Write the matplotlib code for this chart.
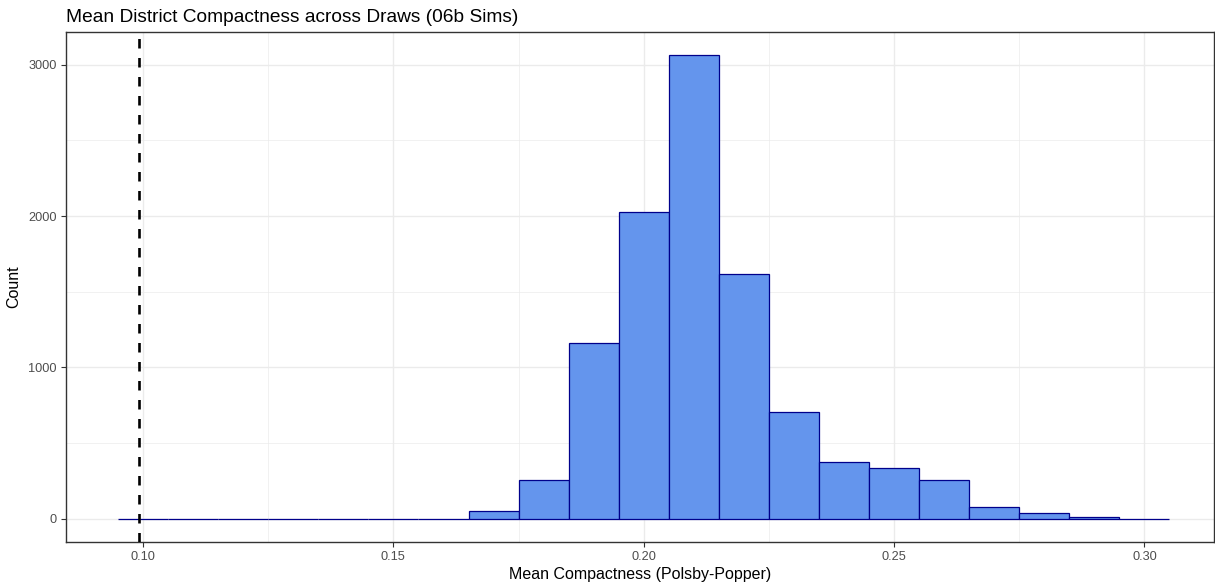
import matplotlib
matplotlib.use("Agg")
import matplotlib.pyplot as plt
from matplotlib.ticker import MultipleLocator

# histogram bins (width 0.01)
bin_centers = [0.10, 0.11, 0.12, 0.13, 0.14, 0.15, 0.16, 0.17, 0.18, 0.19, 0.20,
               0.21, 0.22, 0.23, 0.24, 0.25, 0.26, 0.27, 0.28, 0.29, 0.30]
counts = [0, 0, 0, 0, 0, 0, 0, 48, 255, 1162, 2024,
          3066, 1618, 703, 376, 332, 258, 78, 35, 7, 0]
bin_width = 0.01
ref_line = 0.0992

x_ticks = [0.10, 0.15, 0.20, 0.25, 0.30]
x_tick_labels = ["0.10", "0.15", "0.20", "0.25", "0.30"]
y_ticks = [0, 1000, 2000, 3000]

plt.rcParams["font.family"] = ["Liberation Sans", "DejaVu Sans"]

W, H = 1215, 586
fig = plt.figure(figsize=(W / 100, H / 100), dpi=100)
# panel spans px 66..1214 horizontally, 31.7..541.7 vertically
ax = fig.add_axes([66 / W, 1 - 541.7 / H, 1148 / W, 510 / H])

ax.bar(bin_centers, counts, width=bin_width, color="#6495ED",
       edgecolor="#00008B", linewidth=0.9, zorder=3)
ax.axvline(ref_line, color="black", linestyle=(0, (3.6, 3.6)), linewidth=1.9, zorder=4)

# right side of the panel is clipped by the image edge in the original
ax.set_xlim(0.0846, 0.3139)
top = max(counts)
ax.set_ylim(-0.05 * top, 1.05 * top)

ax.set_xticks(x_ticks)
ax.set_xticklabels(x_tick_labels)
ax.set_yticks(y_ticks)
ax.xaxis.set_minor_locator(MultipleLocator(0.025))
ax.yaxis.set_minor_locator(MultipleLocator(500))

ax.grid(True, which="major", color="#EBEBEB", linewidth=1.0, zorder=0)
ax.grid(True, which="minor", color="#EBEBEB", linewidth=0.5, zorder=0)
ax.set_axisbelow(True)

for s in ax.spines.values():
    s.set_color("#333333")
    s.set_linewidth(1.0)

ax.tick_params(axis="both", which="major", length=3.5, width=0.8, color="#333333",
               labelcolor="#4D4D4D", labelsize=9.2, pad=3)
ax.tick_params(axis="both", which="minor", length=0)

ax.set_title("Mean District Compactness across Draws (06b Sims)", loc="left",
             fontsize=13.8, color="black", pad=7)
ax.set_xlabel("Mean Compactness (Polsby-Popper)", fontsize=11.5, labelpad=3)
ax.set_ylabel("Count", fontsize=11.5, labelpad=5)

fig.savefig("out.png", dpi=100, facecolor="white")
